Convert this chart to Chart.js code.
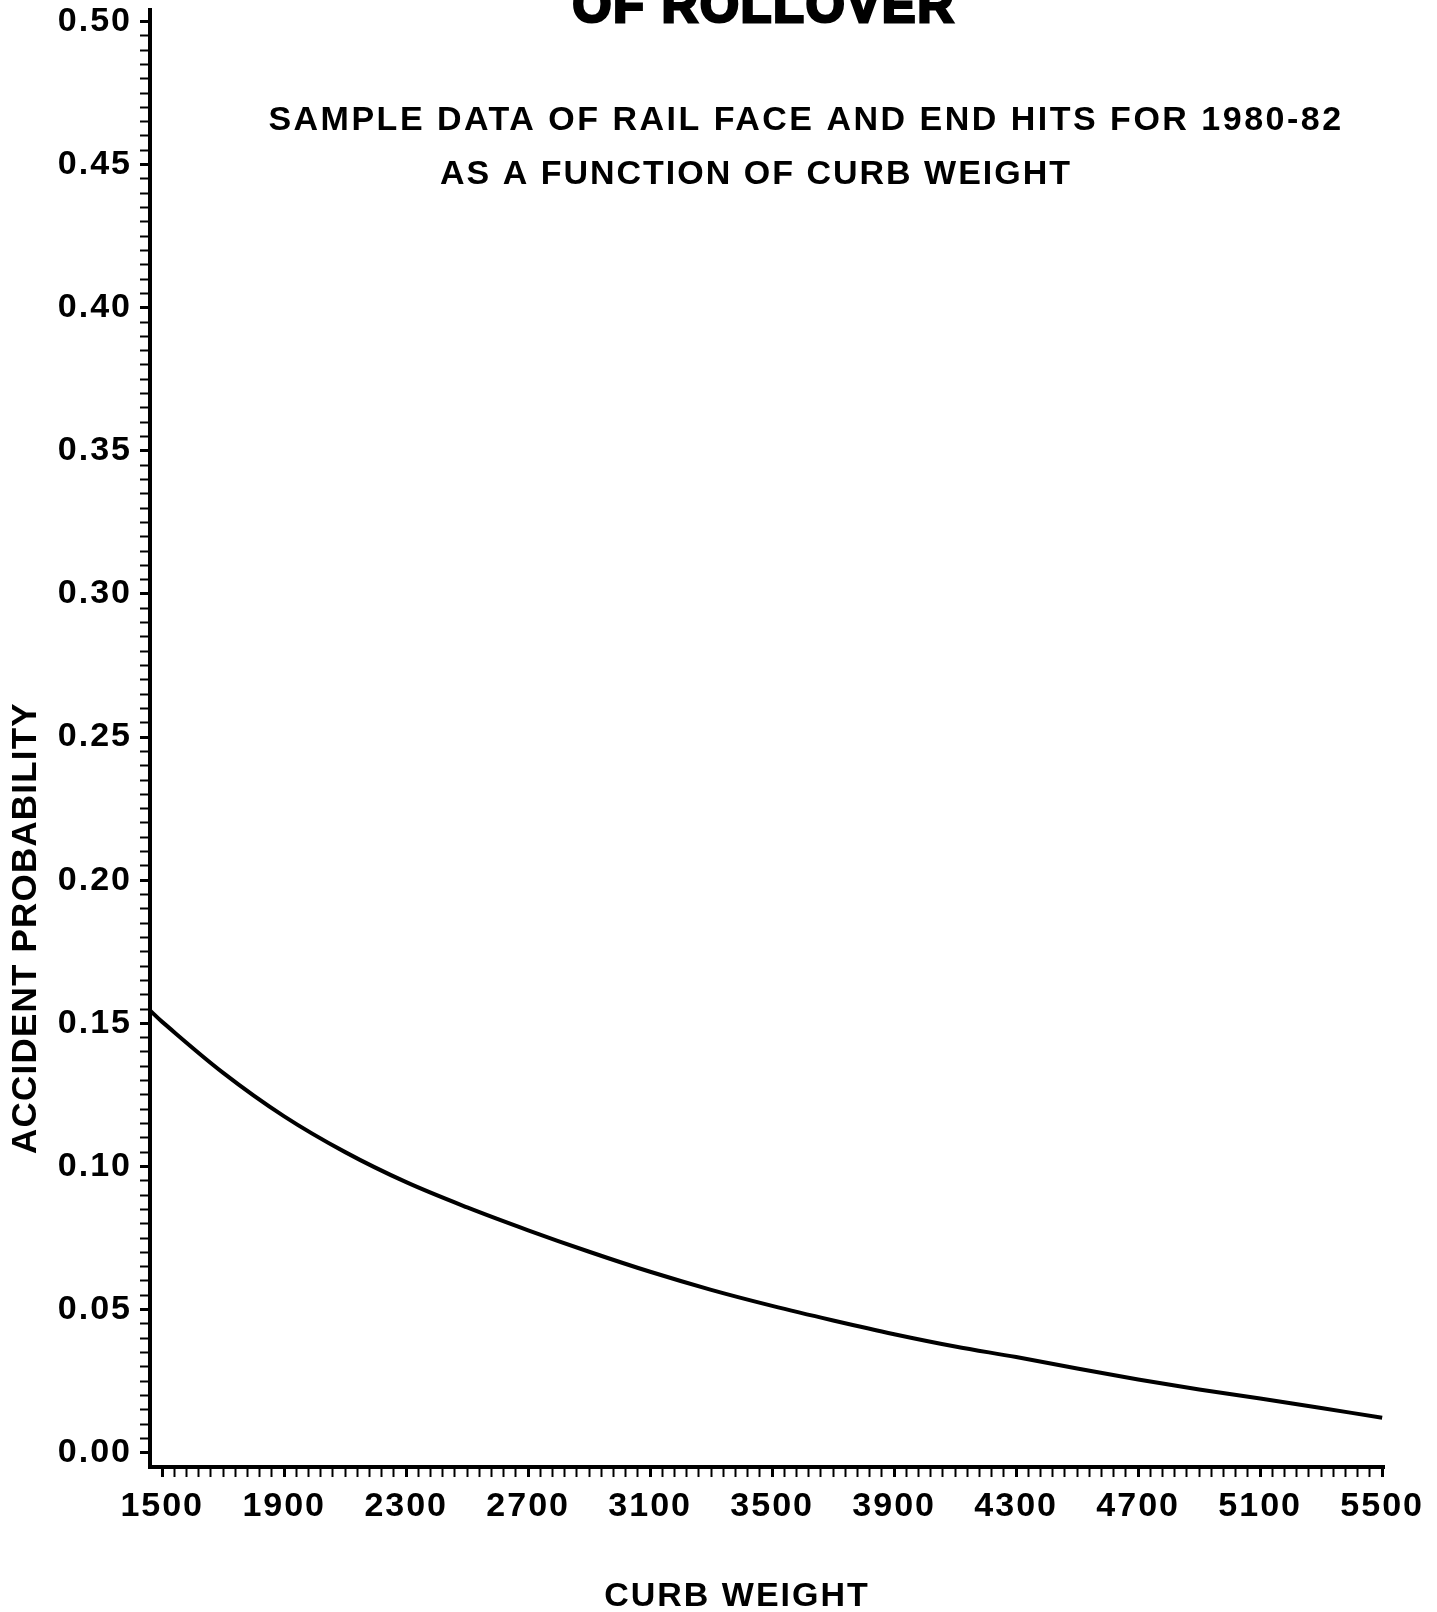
<!DOCTYPE html>
<html lang="en">
<head>
<meta charset="utf-8">
<title>Accident probability - curb weight</title>
<script src="https://cdn.jsdelivr.net/npm/chart.js@4.4.0/dist/chart.umd.min.js"></script>
<style>
  html, body { margin: 0; padding: 0; background: #fff; }
  canvas { display: block; }
</style>
</head>
<body>
<canvas id="grafico" width="1437" height="1612"></canvas>
<script>
// Datos (curb weight -> accident probability)
const pesos = [1460, 1500, 1700, 1900, 2100, 2300, 2500, 2700, 2900, 3100, 3300, 3500, 3700, 3900, 4100, 4300, 4500, 4700, 4900, 5100, 5300, 5500]
const probabilidades = [0.1545, 0.1505, 0.1327, 0.1175, 0.105, 0.0945, 0.0857, 0.0777, 0.0702, 0.0632, 0.0569, 0.0513, 0.0462, 0.0414, 0.0371, 0.0334, 0.0294, 0.0256, 0.0221, 0.0189, 0.0156, 0.0122]

// Etiquetas de los ejes
const etiquetasPeso = [1500, 1900, 2300, 2700, 3100, 3500, 3900, 4300, 4700, 5100, 5500]
const etiquetasProb = [0, 0.05, 0.10, 0.15, 0.20, 0.25, 0.30, 0.35, 0.40, 0.45, 0.50]

const titulo = 'OF ROLLOVER'
const subtitulo1 = 'SAMPLE DATA OF RAIL FACE AND END HITS FOR 1980-82'
const subtitulo2 = 'AS A FUNCTION OF CURB WEIGHT'
const tituloX = 'CURB WEIGHT'
const tituloY = 'ACCIDENT PROBABILITY'

const fuente = '"Liberation Sans", Arial, sans-serif'

// marcas mayores + 9 marcas menores entre cada par
const subdividir = (mayores, partes) => {
    const ticks = []
    mayores.forEach((v, i) => {
        ticks.push({ value: v, major: true })
        if (i < mayores.length - 1) {
            const paso = (mayores[i + 1] - v) / partes
            for (let k = 1; k < partes; k++) ticks.push({ value: v + paso * k, major: false })
        }
    })
    return ticks
}

// textos del grafico y espaciado de letras
const textos = {
    id: 'textos',
    beforeDraw(chart) {
        chart.ctx.letterSpacing = '2px'
    },
    afterDraw(chart) {
        const ctx = chart.ctx
        ctx.save()
        ctx.fillStyle = '#000'
        ctx.strokeStyle = '#000'
        ctx.textAlign = 'center'

        // titulo cortado arriba
        ctx.letterSpacing = '2px'
        ctx.font = `bold 50px ${fuente}`
        ctx.textBaseline = 'alphabetic'
        ctx.lineWidth = 3
        ctx.fillText(titulo, 764, 22)
        ctx.strokeText(titulo, 764, 22)

        ctx.font = `bold 34px ${fuente}`
        ctx.textBaseline = 'middle'
        ctx.letterSpacing = '2.5px'
        ctx.fillText(subtitulo1, 806, 121)
        ctx.letterSpacing = '2px'
        ctx.fillText(subtitulo2, 756, 175)

        ctx.fillText(tituloX, 737, 1597)

        ctx.font = `bold 35px ${fuente}`
        ctx.letterSpacing = '1.2px'
        ctx.translate(26, 928)
        ctx.rotate(-Math.PI / 2)
        ctx.fillText(tituloY, 0, 0)
        ctx.restore()
        ctx.letterSpacing = '0px'
    }
}

const ticksComunes = {
    autoSkip: false,
    maxRotation: 0,
    color: '#000',
    font: { family: fuente, weight: 'bold', size: 34 }
}

const marcas = {
    drawOnChartArea: false,
    tickLength: 10,
    tickColor: '#000',
    tickWidth: (c) => c.tick && c.tick.major ? 3 : 2
}

new Chart(document.getElementById('grafico'), {
    type: 'line',
    data: {
        datasets: [{
            data: pesos.map((p, i) => ({ x: p, y: probabilidades[i] })),
            borderColor: '#000',
            borderWidth: 4,
            pointRadius: 0,
            tension: 0.35,
            fill: false
        }]
    },
    options: {
        responsive: false,
        animation: false,
        layout: { padding: { top: 10, right: 53, left: 0, bottom: 0 } },
        plugins: {
            legend: { display: false },
            tooltip: { enabled: false }
        },
        scales: {
            x: {
                type: 'linear',
                min: 1460,
                max: 5506,
                afterBuildTicks: (escala) => { escala.ticks = subdividir(etiquetasPeso, 10) },
                afterFit: (escala) => {
                    escala.height = 145
                    escala.paddingLeft = 0
                    escala.paddingRight = 0
                },
                border: { display: true, color: '#000', width: 4 },
                grid: marcas,
                ticks: {
                    ...ticksComunes,
                    padding: 9,
                    callback: (valor, i, ticks) => ticks[i].major ? String(Math.round(valor)) : ''
                }
            },
            y: {
                min: -0.005,
                max: 0.504,
                afterBuildTicks: (escala) => { escala.ticks = subdividir(etiquetasProb, 10) },
                afterFit: (escala) => {
                    escala.width = 150
                    escala.paddingTop = 0
                    escala.paddingBottom = 0
                },
                border: { display: true, color: '#000', width: 4 },
                grid: marcas,
                ticks: {
                    ...ticksComunes,
                    padding: 8,
                    callback: (valor, i, ticks) => ticks[i].major ? valor.toFixed(2) : ''
                }
            }
        }
    },
    plugins: [textos]
})
</script>
</body>
</html>
